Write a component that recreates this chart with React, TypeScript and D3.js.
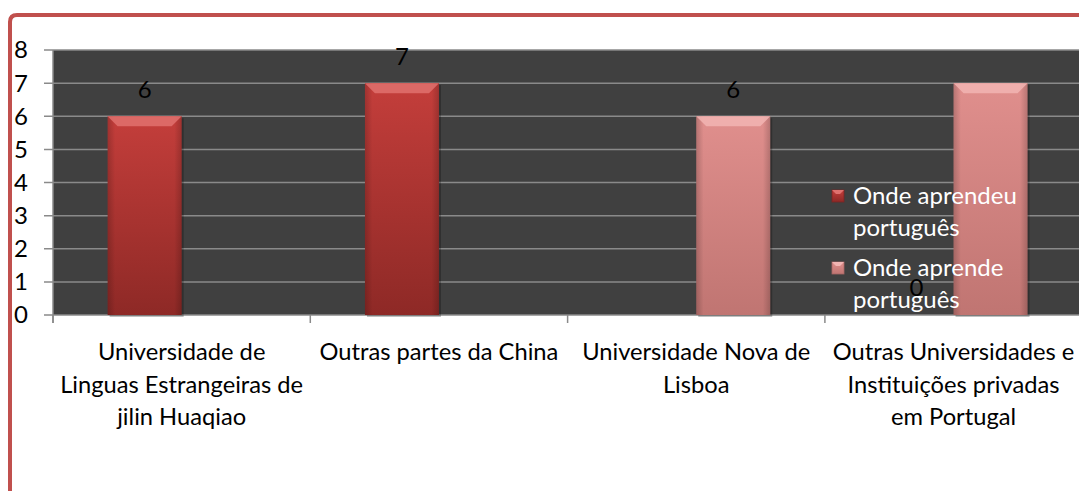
import React from "react";
import * as d3 from "d3";

const categories: string[][] = [
  ["Universidade de", "Linguas Estrangeiras de", "jilin Huaqiao"],
  ["Outras partes da China"],
  ["Universidade Nova de", "Lisboa"],
  ["Outras Universidades e", "Instituições privadas", "em Portugal"],
];
const seriesNames: string[][] = [
  ["Onde aprendeu", "português"],
  ["Onde aprende", "português"],
];
const series1: (number | null)[] = [6, 7, null, 0];
const series2: (number | null)[] = [null, null, 6, 7];
const series1Labels: (string | null)[] = ["6", "7", null, "0"];
const series2Labels: (string | null)[] = [null, null, "6", null];
const yTicks: number[] = [0, 1, 2, 3, 4, 5, 6, 7, 8];

const W = 1079;
const H = 491;
const FONT = "Lato, 'Open Sans', sans-serif";

export default function App() {
  const left = 53;
  const step = 257.3;
  const top = 50;
  const bottom = 315;
  const x = d3
    .scaleBand<number>()
    .domain(d3.range(categories.length))
    .range([left, left + step * categories.length])
    .paddingInner(0)
    .paddingOuter(0);
  const y = d3.scaleLinear().domain([0, 8]).range([bottom, top]);
  const barW = 74;
  const offset = (x.bandwidth() - 2 * barW) / 2;

  const seriesData = [
    { values: series1, labels: series1Labels, grad: "g1", bevel: "#e0716e", dark: "#7a2523" },
    { values: series2, labels: series2Labels, grad: "g2", bevel: "#f2b5b3", dark: "#a86765" },
  ];

  return (
    <svg
      width={W}
      height={H}
      style={{ position: "absolute", left: 0, top: 0, background: "#fff" }}
    >
      <defs>
        <linearGradient id="g1" x1="0" y1="0" x2="0" y2="1">
          <stop offset="0" stopColor="#c43e3b" />
          <stop offset="1" stopColor="#8e2926" />
        </linearGradient>
        <linearGradient id="g2" x1="0" y1="0" x2="0" y2="1">
          <stop offset="0" stopColor="#e08f8d" />
          <stop offset="1" stopColor="#c07572" />
        </linearGradient>
        <linearGradient id="side" x1="0" y1="0" x2="1" y2="0">
          <stop offset="0" stopColor="#000" stopOpacity="0.18" />
          <stop offset="0.1" stopColor="#000" stopOpacity="0" />
          <stop offset="0.9" stopColor="#000" stopOpacity="0" />
          <stop offset="1" stopColor="#000" stopOpacity="0.18" />
        </linearGradient>
      </defs>
      {/* outer border */}
      <path
        d={`M 10 ${H + 10} L 10 22 Q 10 15 17 15 L ${W + 10} 15`}
        fill="none"
        stroke="#c0504d"
        strokeWidth={4}
      />
      {/* plot area */}
      <rect x={left} y={top} width={step * 4} height={bottom - top} fill="#404040" />
      {yTicks.map((t) => (
        <g key={t}>
          <line x1={left - 9} x2={left + step * 4} y1={y(t)} y2={y(t)} stroke="#8a8a8a" strokeWidth={1.5} />
          <text x={14} y={y(t)} dy="0.35em" fontFamily={FONT} fontSize={24} fill="#000">
            {t}
          </text>
        </g>
      ))}
      <line x1={left} x2={left} y1={top} y2={bottom + 8} stroke="#8a8a8a" strokeWidth={1.5} />
      {d3.range(categories.length + 1).map((i) => (
        <line
          key={i}
          x1={left + i * step}
          x2={left + i * step}
          y1={bottom}
          y2={bottom + 8}
          stroke="#8a8a8a"
          strokeWidth={1.5}
        />
      ))}
      {/* bars */}
      {seriesData.map((s, si) =>
        s.values.map((v, i) => {
          if (v === null || v === 0) return null;
          const bx = (x(i) as number) + offset + si * barW;
          const by = y(v);
          const bh = bottom - by;
          const bev = 10;
          return (
            <g key={`${si}-${i}`}>
              <rect x={bx + 2} y={by + 2} width={barW} height={bh} fill="#000" opacity={0.25} />
              <rect x={bx} y={by} width={barW} height={bh} fill={`url(#${s.grad})`} />
              <rect x={bx} y={by} width={barW} height={bh} fill="url(#side)" />
              <path
                d={`M ${bx} ${by} L ${bx + barW} ${by} L ${bx + barW - bev} ${by + bev} L ${bx + bev} ${by + bev} Z`}
                fill={s.bevel}
                opacity={0.85}
              />
            </g>
          );
        })
      )}
      {/* data labels */}
      {seriesData.map((s, si) =>
        s.values.map((v, i) => {
          const lab = s.labels[i];
          if (v === null || lab === null) return null;
          const cx = (x(i) as number) + offset + si * barW + barW / 2;
          return (
            <text
              key={`l${si}-${i}`}
              x={cx}
              y={y(v) - 27}
              dy="0.35em"
              textAnchor="middle"
              fontFamily={FONT}
              fontSize={24}
              fill="#000"
            >
              {lab}
            </text>
          );
        })
      )}
      {/* category labels */}
      {categories.map((lines, i) => (
        <text
          key={`c${i}`}
          x={(x(i) as number) + x.bandwidth() / 2}
          textAnchor="middle"
          fontFamily={FONT}
          fontSize={23.7}
          fill="#000"
        >
          {lines.map((ln, j) => (
            <tspan key={j} x={(x(i) as number) + x.bandwidth() / 2} y={352 + j * 32.5} dy="0.35em">
              {ln}
            </tspan>
          ))}
        </text>
      ))}
      {/* legend */}
      {seriesNames.map((lines, si) => {
        const ly = 196 + si * 72;
        return (
          <g key={`lg${si}`}>
            <rect
              x={832}
              y={ly - 6}
              width={12}
              height={12}
              fill={`url(#${seriesData[si].grad})`}
              stroke={seriesData[si].dark}
              strokeWidth={0.8}
            />
            <path
              d={`M 832 ${ly - 6} L 844 ${ly - 6} L 840 ${ly - 2} L 836 ${ly - 2} Z`}
              fill={seriesData[si].bevel}
            />
            {lines.map((ln, j) => (
              <text
                key={j}
                x={853}
                y={ly + j * 32}
                dy="0.35em"
                fontFamily={FONT}
                fontSize={24}
                fill="#fff"
              >
                {ln}
              </text>
            ))}
          </g>
        );
      })}
    </svg>
  );
}
